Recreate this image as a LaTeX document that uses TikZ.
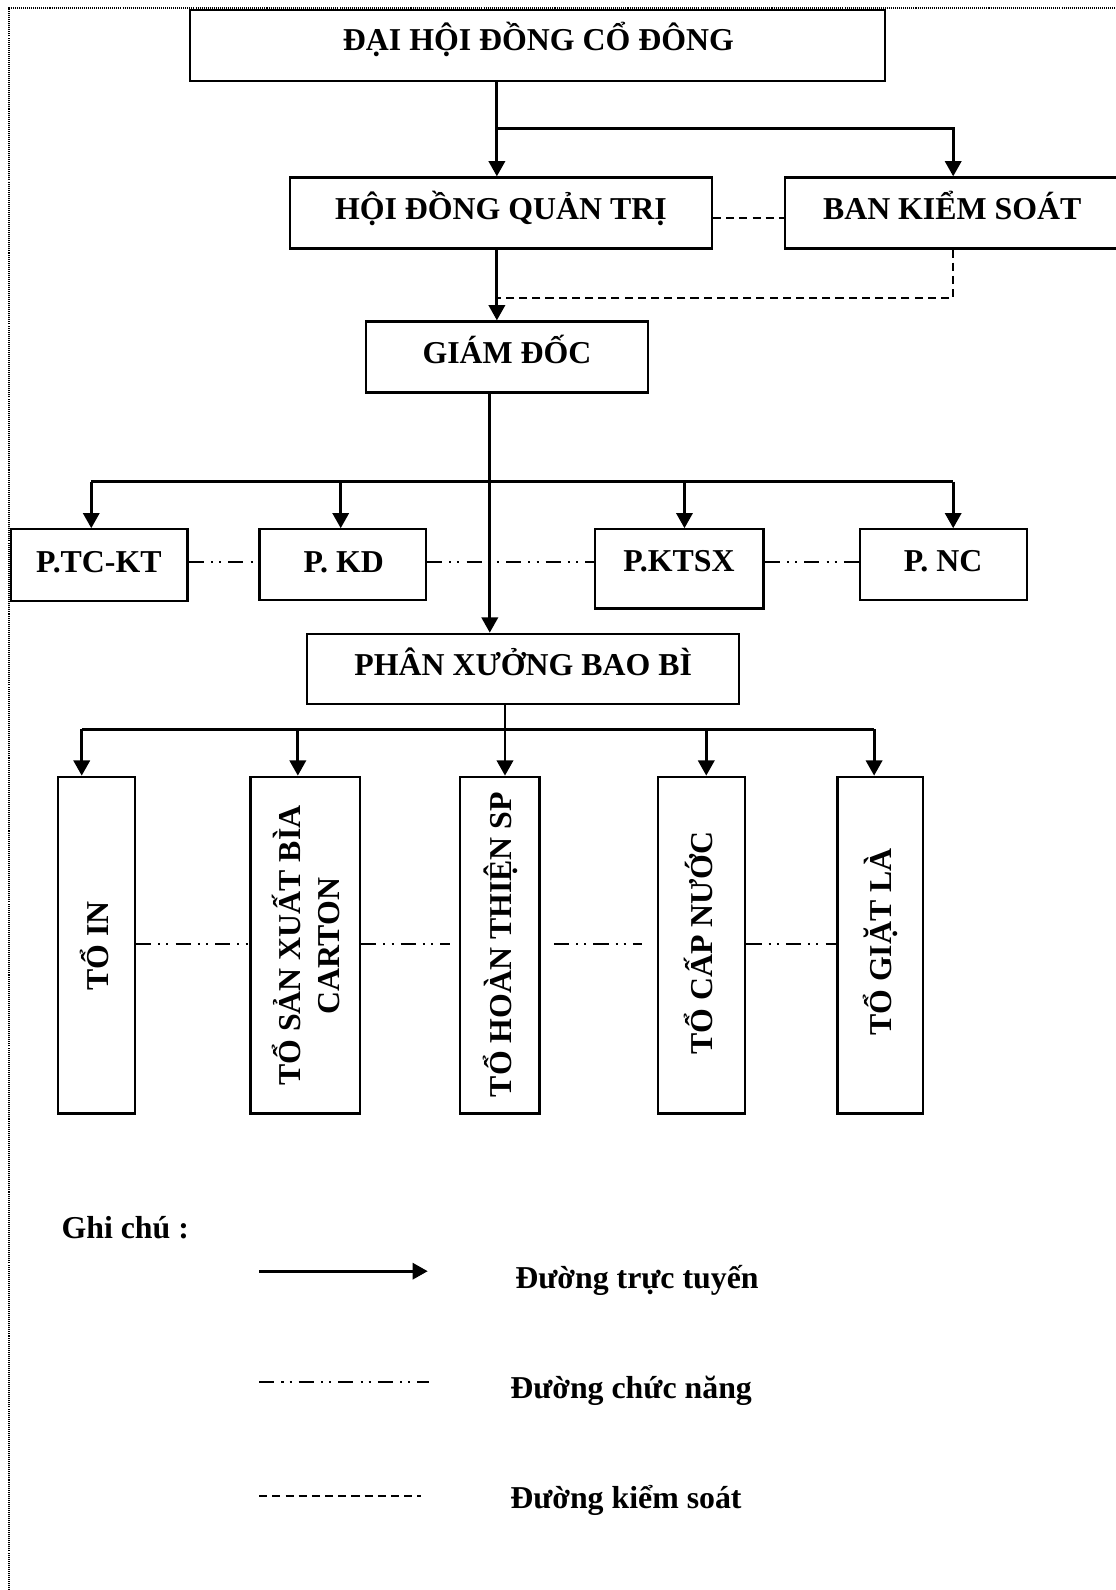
\documentclass[tikz,border=0pt]{standalone}
\usepackage{fontspec}
\setmainfont{Liberation Serif}
\usetikzlibrary{arrows.meta}
\begin{document}
\begin{tikzpicture}[x=1pt,y=-1pt,
  box/.style={draw, line width=2.2pt, inner sep=0pt},
  lbl/.style={font=\bfseries\fontsize{31.4pt}{36pt}\selectfont, inner sep=0pt, anchor=base},
  vlbl/.style={lbl, rotate=90},
  conn/.style={line width=2.8pt},
  arr/.style={conn, -{Triangle[width=16pt,length=15pt]}},
  ctrl/.style={line width=2pt, dash pattern=on 8pt off 5pt},
  func/.style={line width=2pt, dash pattern=on 15pt off 7pt on 2pt off 6pt on 2pt off 7pt},
  border/.style={line width=1.5pt, dash pattern=on 1pt off 1pt}]
\useasboundingbox (0,0) rectangle (1100,1568);
% border
\draw[border] (8.9,1580) -- (8.9,7.9) -- (1110,7.9);
% boxes
\node[box, minimum width=686pt, minimum height=70pt] (dh) at (530,45) {};
\node[lbl] (dht) at (531,50) {ĐẠI HỘI ĐỒNG CỔ ĐÔNG};
\node[box, minimum width=416pt, minimum height=70pt] (hd) at (494,210) {};
\node[lbl] (hdt) at (494,216) {HỘI ĐỒNG QUẢN TRỊ};
\node[box, minimum width=332pt, minimum height=70pt] (bks) at (940,210) {};
\node[lbl] (bkst) at (939,216) {BAN KIỂM SOÁT};
\node[box, minimum width=278pt, minimum height=70pt] (gd) at (500,352) {};
\node[lbl] (gdt) at (500,358) {GIÁM ĐỐC};
\node[box, minimum width=174pt, minimum height=71pt] (tckt) at (98,557.5) {};
\node[lbl] (tcktt) at (97.5,565) {P.TC-KT};
\node[box, minimum width=164pt, minimum height=70pt] (kd) at (338,557) {};
\node[lbl] (kdt) at (339,564.5) {P. KD};
\node[box, minimum width=166pt, minimum height=78pt] (ktsx) at (670,561) {};
\node[lbl] (ktsxt) at (669.5,564) {P.KTSX};
\node[box, minimum width=165pt, minimum height=70pt] (nc) at (930.5,557) {};
\node[lbl] (nct) at (930,564) {P. NC};
\node[box, minimum width=426pt, minimum height=69pt] (px) at (516,659.5) {};
\node[lbl] (pxt) at (516,666) {PHÂN XƯỞNG BAO BÌ};
\node[box, minimum width=76pt, minimum height=332pt] (t1) at (95,932) {};
\node[vlbl] (t1t) at (107,933) {TỔ IN};
\node[box, minimum width=108pt, minimum height=332pt] (t2) at (301,932) {};
\node[vlbl] (t2a) at (296.6,932.5) {TỔ SẢN XUẤT BÌA};
\node[vlbl] (t2b) at (334.5,933) {CARTON};
\node[box, minimum width=78pt, minimum height=332pt] (t3) at (493,932) {};
\node[vlbl] (t3t) at (504,931.5) {TỔ HOÀN THIỆN SP};
\node[box, minimum width=86pt, minimum height=332pt] (t4) at (692,932) {};
\node[vlbl] (t4t) at (703,930) {TỔ CẤP NƯỚC};
\node[box, minimum width=84pt, minimum height=332pt] (t5) at (868,932) {};
\node[vlbl] (t5t) at (879,929) {TỔ GIẶT LÀ};
% line connectors
\coordinate (j1) at (490,127);
\coordinate (j2) at (490,294);
\coordinate (j3) at (483,475);
\coordinate (j4) at (498,719);
\draw[arr] (dh.south -| j1) -- (hd.north -| j1);
\draw[arr] (j1) -| (bks.north);
\draw[arr] (hd.south -| j1) -- (gd.north -| j1);
\draw[arr] (gd.south -| j3) -- (px.north -| j3);
\coordinate (b1) at (90,475);
\coordinate (b2) at (336,475);
\coordinate (b3) at (675,475);
\coordinate (b4) at (940,475);
\draw[conn] (b1) -- (b4);
\draw[arr] (b1) -- (b1 |- tckt.north);
\draw[arr] (b2) -- (b2 |- kd.north);
\draw[arr] (b3) -- (b3 |- ktsx.north);
\draw[arr] (b4) -- (b4 |- nc.north);
\coordinate (c1) at (80.6,719);
\coordinate (c2) at (293.7,719);
\coordinate (c4) at (696.5,719);
\coordinate (c5) at (862,719);
\draw[conn] (c1) -- (c5);
\draw[arr] (px.south -| j4) -- (t3.north -| j4);
\draw[arr] (c1) -- (c1 |- t1.north);
\draw[arr] (c2) -- (c2 |- t2.north);
\draw[arr] (c4) -- (c4 |- t4.north);
\draw[arr] (c5) -- (c5 |- t5.north);
% control lines
\draw[ctrl] ([yshift=-5pt]hd.east) -- ([yshift=-5pt]bks.west);
\draw[ctrl] (bks.south) |- (j2);
% function lines
\coordinate (fy) at (0,554);
\draw[func] (tckt.east |- fy) -- (kd.west |- fy);
\draw[func] (kd.east |- fy) -- (ktsx.west |- fy);
\draw[func] (ktsx.east |- fy) -- (nc.west |- fy);
\coordinate (gy) at (0,931);
\draw[func] (t1.east |- gy) -- (t2.west |- gy);
\draw[func] (t2.east |- gy) -- ([xshift=-9pt]t3.west |- gy);
\draw[func] ([xshift=13pt]t3.east |- gy) -- ([xshift=-15pt]t4.west |- gy);
\draw[func] (t4.east |- gy) -- (t5.west |- gy);
% legend
\node[lbl, anchor=base west] (gc) at (60.5,1221) {Ghi chú :};
\coordinate (la1) at (255.6,1253.6);
\coordinate (la2) at (421.8,1253.6);
\draw[arr] (la1) -- (la2);
\node[lbl, anchor=base west] (lt1) at (508,1271) {Đường trực tuyến};
\coordinate (lb1) at (255.6,1362.5);
\coordinate (lb2) at (423,1362.5);
\draw[func] (lb1) -- (lb2);
\node[lbl, anchor=base west] (lt2) at (503,1379) {Đường chức năng};
\coordinate (lc1) at (255.6,1475);
\coordinate (lc2) at (415,1475);
\draw[ctrl] (lc1) -- (lc2);
\node[lbl, anchor=base west] (lt3) at (503,1488) {Đường kiểm soát};
\end{tikzpicture}
\end{document}
